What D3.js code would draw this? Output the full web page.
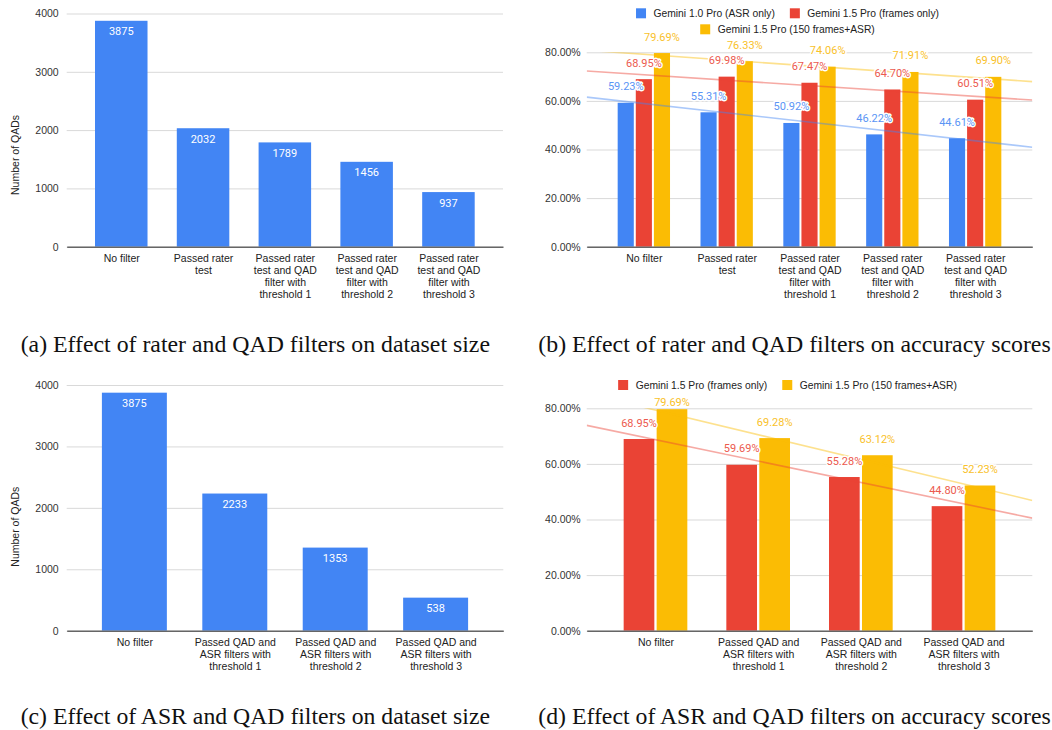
<!DOCTYPE html>
<html>
<head>
<meta charset="utf-8">
<script src="https://cdn.jsdelivr.net/npm/d3@7"></script>
<style>
  body { margin: 0; background: #fff; }
  svg { display: block; }
</style>
</head>
<body>
<div id="wrapper"></div>
<script>
// ---- data ----
const raterCats = [
  "No filter",
  "Passed rater\ntest",
  "Passed rater\ntest and QAD\nfilter with\nthreshold 1",
  "Passed rater\ntest and QAD\nfilter with\nthreshold 2",
  "Passed rater\ntest and QAD\nfilter with\nthreshold 3"
];
const asrCats = [
  "No filter",
  "Passed QAD and\nASR filters with\nthreshold 1",
  "Passed QAD and\nASR filters with\nthreshold 2",
  "Passed QAD and\nASR filters with\nthreshold 3"
];
const raterCounts = [3875, 2032, 1789, 1456, 937];
const asrCounts = [3875, 2233, 1353, 538];

const seriesNames = ["Gemini 1.0 Pro (ASR only)", "Gemini 1.5 Pro (frames only)", "Gemini 1.5 Pro (150 frames+ASR)"];
const raterAsrOnly = [59.23, 55.31, 50.92, 46.22, 44.61];
const raterFramesOnly = [68.95, 69.98, 67.47, 64.70, 60.51];
const raterFramesAsr = [79.69, 76.33, 74.06, 71.91, 69.90];
const asrFramesOnly = [68.95, 59.69, 55.28, 44.80];
const asrFramesAsr = [79.69, 69.28, 63.12, 52.23];

const countTicks = [0, 1000, 2000, 3000, 4000];
const pctTicks = [0, 20, 40, 60, 80];

const captions = [
  "(a) Effect of rater and QAD filters on dataset size",
  "(b) Effect of rater and QAD filters on accuracy scores",
  "(c) Effect of ASR and QAD filters on dataset size",
  "(d) Effect of ASR and QAD filters on accuracy scores"
];

const BLUE = "#4285f4", RED = "#ea4335", YELLOW = "#fbbc04";
const SANS = "'Liberation Sans', Arial, sans-serif";

const svg = d3.select("#wrapper").append("svg")
  .attr("width", 1052)
  .attr("height", 730);
svg.append("rect").attr("width", 1052).attr("height", 730).attr("fill", "#fff");

function drawPanel(p) {
  const g = svg.append("g");

  const y = d3.scaleLinear().domain([0, p.yMax]).range([p.bottom, p.top]);
  const x0 = d3.scalePoint().domain(p.cats).range([p.left, p.right]).padding(p.outerPad);
  const groupW = x0.step() * p.groupFrac;
  const x1 = d3.scaleBand()
    .domain(d3.range(p.series.length))
    .range([-groupW / 2, groupW / 2])
    .paddingInner(p.innerPad);

  // gridlines + y tick labels
  const yAxis = g.append("g")
    .attr("transform", `translate(${p.left},0)`)
    .call(d3.axisLeft(y).tickValues(p.ticks).tickSize(-(p.right - p.left)).tickPadding(p.tickPad).tickFormat(p.fmt))
    .attr("font-family", SANS)
    .attr("font-size", 10.5);
  yAxis.select(".domain").remove();
  yAxis.selectAll(".tick line").attr("stroke", "#d9d9d9");
  yAxis.selectAll(".tick text").attr("fill", "#333");

  // bars
  p.series.forEach((s, si) => {
    g.append("g")
      .selectAll("rect")
      .data(s.values)
      .join("rect")
      .attr("x", (d, i) => x0(p.cats[i]) + x1(si))
      .attr("y", (d) => y(d))
      .attr("width", x1.bandwidth())
      .attr("height", (d) => p.bottom - y(d))
      .attr("fill", s.color);
  });

  // x axis (baseline + wrapped labels)
  const xAxis = g.append("g")
    .attr("transform", `translate(0,${p.bottom})`)
    .call(d3.axisBottom(x0).tickSize(0).tickSizeOuter(0))
    .attr("font-family", SANS)
    .attr("font-size", 10.5);
  xAxis.select(".domain").attr("stroke", "#666").attr("stroke-width", 1.5);
  xAxis.selectAll(".tick text").each(function (d) {
    const t = d3.select(this).text(null).attr("y", 0).attr("dy", null).attr("fill", "#222");
    d.split("\n").forEach((line, li) => {
      t.append("tspan").attr("x", 0).attr("y", 15.5 + li * 12).text(line);
    });
  });

  // trendlines (least squares over category index, clipped to plot area)
  if (p.trend) {
    const n = p.cats.length;
    const xi = d3.scaleLinear().domain([0, n - 1]).range([x0(p.cats[0]), x0(p.cats[n - 1])]);
    const clipId = "clip-" + p.id;
    g.append("clipPath").attr("id", clipId)
      .append("rect")
      .attr("x", p.left).attr("y", p.top)
      .attr("width", p.right - p.left).attr("height", p.bottom - p.top);
    p.series.forEach((s) => {
      const xm = (n - 1) / 2;
      const ym = d3.mean(s.values);
      const slope = d3.sum(s.values, (v, i) => (i - xm) * (v - ym)) / d3.sum(s.values, (v, i) => (i - xm) ** 2);
      const f = (i) => ym + slope * (i - xm);
      const i0 = xi.invert(p.left), i1 = xi.invert(p.right);
      g.append("line")
        .attr("clip-path", `url(#${clipId})`)
        .attr("x1", p.left).attr("y1", y(f(i0)))
        .attr("x2", p.right).attr("y2", y(f(i1)))
        .attr("stroke", s.color)
        .attr("stroke-opacity", 0.45)
        .attr("stroke-width", 1.6);
    });
  }

  // value labels
  p.series.forEach((s, si) => {
    const lab = g.append("g")
      .selectAll("text")
      .data(s.values)
      .join("text")
      .attr("x", (d, i) => x0(p.cats[i]) + x1(si) + x1.bandwidth() / 2)
      .attr("text-anchor", "middle")
      .style("font-family", "Roboto, 'Liberation Sans', sans-serif")
      .style("font-size", "11px")
      .text(p.labelFmt);
    if (p.inside) {
      lab.attr("y", (d) => y(d) + 14.5).attr("fill", "#fff");
    } else {
      // keep annotations clear of the legend
      lab.attr("y", (d) => Math.max(y(d) - 12.5, p.labelMinY || 0))
        .attr("fill", s.labelColor)
        .attr("stroke", "#fff")
        .attr("stroke-width", 3)
        .attr("stroke-linejoin", "round")
        .attr("paint-order", "stroke");
    }
  });

  // y title
  if (p.yTitle) {
    g.append("text")
      .attr("transform", `translate(${p.yTitle.x},${p.yTitle.y}) rotate(-90)`)
      .attr("text-anchor", "middle")
      .attr("dy", "0.35em")
      .style("font-family", SANS)
      .style("font-size", "10.5px")
      .attr("fill", "#222")
      .text(p.yTitle.text);
  }

  // legend rows, centred
  if (p.legend) {
    p.legend.rows.forEach((row, ri) => {
      const lg = g.append("g");
      let cx = 0;
      row.forEach((si, k) => {
        const s = p.series[si];
        if (k > 0) cx += 15;
        lg.append("rect").attr("x", cx).attr("y", -5).attr("width", 10).attr("height", 10).attr("fill", s.color);
        const t = lg.append("text")
          .attr("x", cx + 17.5).attr("y", 0).attr("dy", "0.35em")
          .style("font-family", SANS).style("font-size", "10.3px")
          .attr("fill", "#222")
          .text(s.name);
        cx += 17.5 + t.node().getComputedTextLength();
      });
      lg.attr("transform", `translate(${p.legend.cx - cx / 2},${p.legend.ys[ri]})`);
    });
  }

  // caption
  svg.append("text")
    .attr("x", p.caption.x)
    .attr("y", p.caption.y)
    .attr("textLength", p.caption.w)
    .attr("lengthAdjust", "spacingAndGlyphs")
    .style("font-family", "'Liberation Serif', 'Times New Roman', serif")
    .style("font-size", "23px")
    .attr("fill", "#111")
    .text(p.caption.text);
}

const pctFmt = (d) => d3.format(".2f")(d) + "%";

drawPanel({
  id: "a", cats: raterCats,
  left: 66.7, right: 503, top: 13.5, bottom: 246.7,
  yMax: 4000, ticks: countTicks, fmt: d3.format("d"), tickPad: 8,
  outerPad: 0.667, groupFrac: 0.642, innerPad: 0,
  series: [{ name: "Number of QADs", values: raterCounts, color: BLUE }],
  inside: true, labelFmt: (d) => d,
  yTitle: { x: 15, y: 155, text: "Number of QADs" },
  caption: { x: 20.7, y: 352, w: 469.3, text: captions[0] }
});

drawPanel({
  id: "b", cats: raterCats,
  left: 586.7, right: 1032.3, top: 52.3, bottom: 246.7,
  yMax: 80, ticks: pctTicks, fmt: pctFmt, tickPad: 6,
  outerPad: 0.69, groupFrac: 0.632, innerPad: 0.11,
  series: [
    { name: seriesNames[0], values: raterAsrOnly, color: BLUE, labelColor: "#5b95f5" },
    { name: seriesNames[1], values: raterFramesOnly, color: RED, labelColor: "#ec5a4e" },
    { name: seriesNames[2], values: raterFramesAsr, color: YELLOW, labelColor: "#f9c12a" }
  ],
  trend: true, labelFmt: pctFmt,
  legend: { cx: 787.5, ys: [13.3, 29.3], rows: [[0, 1], [2]] },
  caption: { x: 538.3, y: 352, w: 512.4, text: captions[1] }
});

drawPanel({
  id: "c", cats: asrCats,
  left: 66.7, right: 503.3, top: 385, bottom: 630.7,
  yMax: 4000, ticks: countTicks, fmt: d3.format("d"), tickPad: 8,
  outerPad: 0.674, groupFrac: 0.647, innerPad: 0,
  series: [{ name: "Number of QADs", values: asrCounts, color: BLUE }],
  inside: true, labelFmt: (d) => d,
  yTitle: { x: 15, y: 526.7, text: "Number of QADs" },
  caption: { x: 20.7, y: 723.5, w: 469.3, text: captions[2] }
});

drawPanel({
  id: "d", cats: asrCats,
  left: 586.7, right: 1032.3, top: 408.3, bottom: 630.7,
  yMax: 80, ticks: pctTicks, fmt: pctFmt, tickPad: 6,
  outerPad: 0.67, groupFrac: 0.62, innerPad: 0.07,
  series: [
    { name: seriesNames[1], values: asrFramesOnly, color: RED, labelColor: "#ec5a4e" },
    { name: seriesNames[2], values: asrFramesAsr, color: YELLOW, labelColor: "#f9c12a" }
  ],
  trend: true, labelFmt: pctFmt, labelMinY: 406,
  legend: { cx: 787.5, ys: [385], rows: [[0, 1]] },
  caption: { x: 538.3, y: 723.5, w: 512.4, text: captions[3] }
});
</script>
</body>
</html>
